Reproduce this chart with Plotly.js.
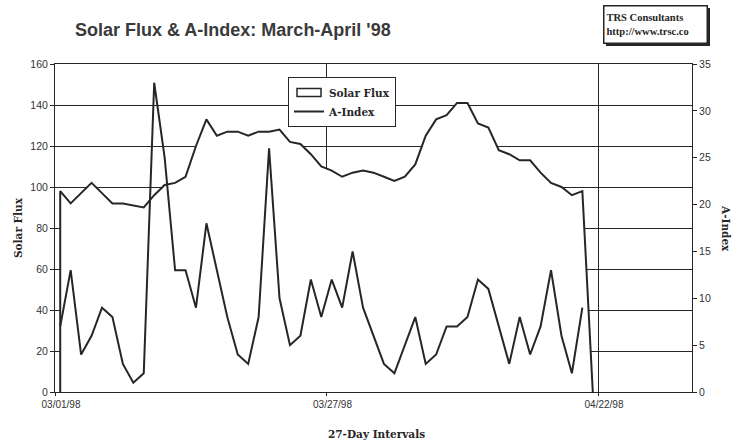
<!DOCTYPE html>
<html>
<head>
<meta charset="utf-8">
<script src="https://cdn.plot.ly/plotly-3.0.1.min.js"></script>
<style>html,body{margin:0;padding:0;background:#fff;}#chart{width:734px;height:441px;}</style>
</head>
<body>
<div id="chart"></div>
<script>
const dates = [
  '1998-03-01','1998-03-02','1998-03-03','1998-03-04','1998-03-05','1998-03-06','1998-03-07','1998-03-08',
  '1998-03-09','1998-03-10','1998-03-11','1998-03-12','1998-03-13','1998-03-14','1998-03-15','1998-03-16',
  '1998-03-17','1998-03-18','1998-03-19','1998-03-20','1998-03-21','1998-03-22','1998-03-23','1998-03-24',
  '1998-03-25','1998-03-26','1998-03-27','1998-03-28','1998-03-29','1998-03-30','1998-03-31','1998-04-01',
  '1998-04-02','1998-04-03','1998-04-04','1998-04-05','1998-04-06','1998-04-07','1998-04-08','1998-04-09',
  '1998-04-10','1998-04-11','1998-04-12','1998-04-13','1998-04-14','1998-04-15','1998-04-16','1998-04-17',
  '1998-04-18','1998-04-19','1998-04-20','1998-04-21'
];
const solarFlux = [98,92,97,102,97,92,92,91,90,96,101,102,105,120,133,125,127,127,125,127,
  127,128,122,121,116,110,108,105,107,108,107,105,103,105,111,125,133,135,141,141,
  131,129,118,116,113,113,107,102,100,96,98,0];
const aIndex = [7,13,4,6,9,8,3,1,2,33,25,13,13,9,18,13,8,4,3,8,
  26,10,5,6,12,8,12,9,15,9,6,3,2,5,8,3,4,7,7,8,
  12,11,7,3,8,4,7,13,6,2,9,null];
const tickDates = ['1998-02-28 12:00','1998-03-26 12:00','1998-04-21 12:00'];
const tickLabels = ['03/01/98','03/27/98','04/22/98'];
const xRange = ['1998-02-28 12:00','1998-04-30 12:00'];

// area outline starts from the baseline, as in the spreadsheet area chart
const fluxX = [dates[0]].concat(dates);
const fluxY = [0].concat(solarFlux);

const ink = '#262626';
const serifB = {family: 'DejaVu Serif', size: 10.5, color: ink, weight: 'bold'};

const traces = [
  {
    x: fluxX, y: fluxY, name: 'Solar Flux', type: 'scatter', mode: 'lines',
    fill: 'tozeroy', fillcolor: '#ffffff', line: {color: ink, width: 2},
    hoverinfo: 'skip'
  },
  {
    x: dates, y: aIndex, name: 'A-Index', type: 'scatter', mode: 'lines',
    yaxis: 'y2', line: {color: ink, width: 2}, connectgaps: false,
    hoverinfo: 'skip'
  }
];

const layout = {
  width: 734, height: 441,
  margin: {l: 55, r: 42, t: 64, b: 49, autoexpand: false},
  paper_bgcolor: '#ffffff', plot_bgcolor: '#ffffff',
  showlegend: true,
  title: {
    text: "<b>Solar Flux &amp; A-Index: March-April '98</b>",
    font: {family: 'Liberation Sans', size: 18, color: '#3a3a3a'},
    x: 75/734, xref: 'container', xanchor: 'left',
    y: 1 - 30/441, yref: 'container', yanchor: 'middle'
  },
  xaxis: {
    type: 'date', range: xRange,
    tickvals: tickDates, ticktext: tickLabels,
    ticklabelshift: 6,
    ticks: 'outside', ticklen: 3, tickcolor: ink,
    showgrid: true, gridcolor: ink, gridwidth: 1,
    showline: true, linecolor: ink, linewidth: 1, mirror: true,
    zeroline: false,
    tickfont: {family: 'Liberation Sans', size: 10, color: '#333333'}
  },
  yaxis: {
    range: [0, 160], dtick: 20, tick0: 0,
    ticks: 'outside', ticklen: 4, tickcolor: ink,
    showgrid: true, gridcolor: ink, gridwidth: 1,
    showline: true, linecolor: ink, linewidth: 1,
    zeroline: false,
    tickfont: {family: 'Liberation Sans', size: 10.5, color: '#333333'}
  },
  yaxis2: {
    overlaying: 'y', side: 'right',
    range: [0, 35], dtick: 5, tick0: 0,
    ticks: 'outside', ticklen: 4, tickcolor: ink,
    showgrid: false, showline: true, linecolor: ink, linewidth: 1,
    zeroline: false,
    tickfont: {family: 'Liberation Sans', size: 10.5, color: '#333333'}
  },
  legend: {
    x: (288-55)/637, y: (392-77)/328, xanchor: 'left', yanchor: 'top',
    bgcolor: '#ffffff', bordercolor: ink, borderwidth: 1,
    font: serifB, itemwidth: 30, orientation: 'v'
  },
  annotations: [
    {
      text: 'Solar Flux', xref: 'paper', yref: 'paper', x: 0, y: 0.5,
      xshift: -37, textangle: -90, showarrow: false, font: serifB,
      xanchor: 'center', yanchor: 'middle'
    },
    {
      text: 'A-Index', xref: 'paper', yref: 'paper', x: 1, y: 0.5,
      xshift: 34, textangle: 90, showarrow: false, font: serifB,
      xanchor: 'center', yanchor: 'middle'
    },
    {
      text: '27-Day Intervals', xref: 'paper', yref: 'paper', x: 0.504, y: 0,
      yshift: -42, showarrow: false, font: serifB,
      xanchor: 'center', yanchor: 'middle'
    },
    {
      text: 'TRS Consultants<br>http://www.trsc.co', xref: 'paper', yref: 'paper',
      x: (603-55)/637, y: (392-5)/328, xanchor: 'left', yanchor: 'top',
      align: 'left', showarrow: false, width: 98, height: 32,
      bgcolor: '#ffffff', bordercolor: ink, borderwidth: 1.5, borderpad: 2,
      font: {family: 'Liberation Serif', size: 10.5, color: ink, weight: 'bold'}
    }
  ],
  shapes: [
    {
      type: 'rect', xref: 'paper', yref: 'paper', layer: 'below',
      x0: (606-55)/637, x1: (710-55)/637, y0: (392-46)/328, y1: (392-8)/328,
      fillcolor: ink, line: {width: 0}
    }
  ]
};

Plotly.newPlot('chart', traces, layout, {staticPlot: true, displayModeBar: false}).then(function () {
  // show the area series' legend key as an outlined box, as in the original
  const items = document.querySelectorAll('.legend .traces');
  if (items.length) {
    const first = items[0];
    first.querySelectorAll('.legendlines path').forEach(function (p) { p.style.display = 'none'; });
    first.querySelectorAll('.legendfill path').forEach(function (p) {
      p.setAttribute('d', 'M8,-4h24v8h-24z');
      p.style.fill = '#ffffff';
      p.style.stroke = ink;
      p.style.strokeWidth = '1.5px';
    });
  }
});
</script>
</body>
</html>
